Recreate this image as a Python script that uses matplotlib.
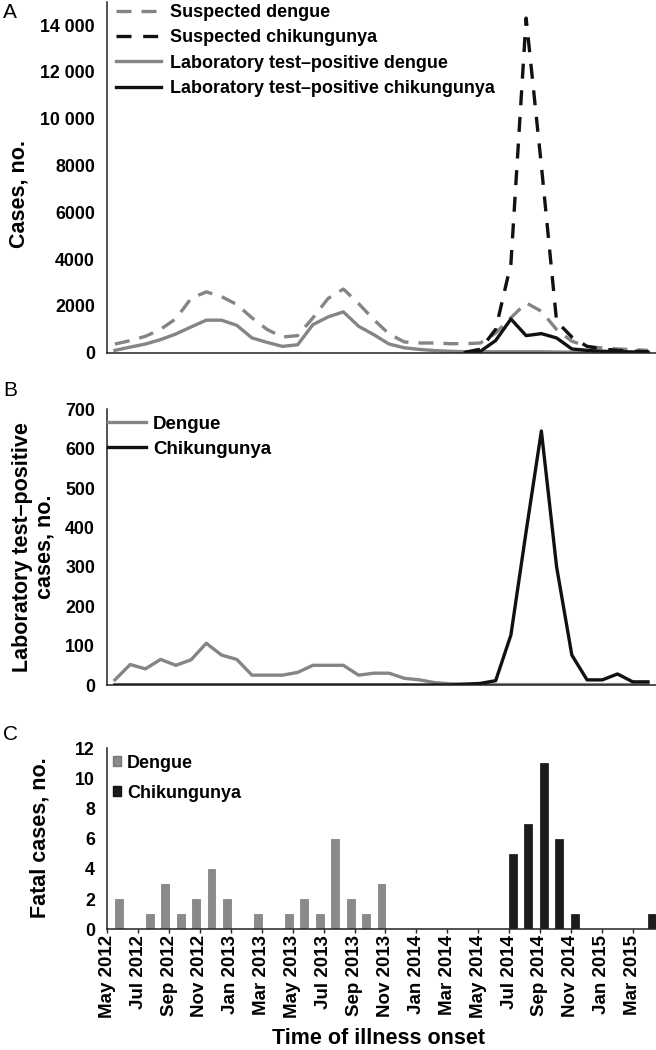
import numpy as np
from matplotlib import pyplot as plt
from matplotlib.lines import Line2D
from matplotlib.patches import Patch

plt.rcParams['font.family'] = ['Liberation Sans', 'DejaVu Sans']
plt.rcParams['font.weight'] = 'bold'

W, H = 656, 1050

# one value per month, index 0 = May 2012 ... 35 = Apr 2015
months = np.arange(36)

# panel A, cases per month
susp_dengue = [370, 515, 700, 1000, 1450, 2320, 2600, 2400, 2060, 1490, 990, 670,
               730, 1490, 2320, 2720, 2100, 1410, 800, 460, 415, 415, 385, 385,
               415, 840, 1490, 2130, 1770, 990, 490, 270, 200, 160, 130, 100]
lab_dengue = [100, 240, 370, 560, 800, 1100, 1390, 1390, 1170, 630, 440, 270,
              340, 1200, 1530, 1745, 1130, 770, 370, 210, 140, 90, 60, 45,
              40, 40, 40, 40, 40, 30, 20, 15, 10, 10, 10, 10]
chik_start = 23  # Apr 2014
susp_chik = [20, 150, 1000, 3800, 14300, 8000, 1340, 670, 270, 160, 100, 70, 40]
lab_chik = [0, 60, 520, 1440, 730, 815, 630, 160, 100, 60, 50, 30, 30]

# panel B, laboratory test-positive cases
b_dengue = [13, 52, 41, 65, 50, 64, 106, 76, 65, 25, 25, 25,
            32, 50, 50, 50, 25, 30, 30, 17, 13, 6, 3, 2,
            1, 1, 1, 1, 1, 1, 1, 1, 1, 1, 1, 1]
b_chik = [0] * 23 + [2, 4, 11, 127, 390, 645, 300, 76, 13, 13, 28, 8, 8]

# panel C, fatal cases
fatal_dengue = [2, 0, 1, 3, 1, 2, 4, 2, 0, 1, 0, 1, 2, 1, 6, 2, 1, 3] + [0] * 18
fatal_chik = [0] * 26 + [5, 7, 11, 6, 1, 0, 0, 0, 0, 1]

a_ticks = [0, 2000, 4000, 6000, 8000, 10000, 12000, 14000]
a_ticklabels = ['0', '2000', '4000', '6000', '8000', '10 000', '12 000', '14 000']
b_ticks = [0, 100, 200, 300, 400, 500, 600, 700]
c_ticks = [0, 2, 4, 6, 8, 10, 12]
c_xticklabels = ['May 2012', 'Jul 2012', 'Sep 2012', 'Nov 2012', 'Jan 2013', 'Mar 2013',
                 'May 2013', 'Jul 2013', 'Sep 2013', 'Nov 2013', 'Jan 2014', 'Mar 2014',
                 'May 2014', 'Jul 2014', 'Sep 2014', 'Nov 2014', 'Jan 2015', 'Mar 2015']

GRAY = '#858585'
BLACK = '#111111'
LW = 2.4
TICK_FS = 12.8
LABEL_FS = 15.5

fig = plt.figure(figsize=(W / 100, H / 100), dpi=100)


def px_axes(left, top, right, bottom):
    return fig.add_axes([left / W, 1 - bottom / H, (right - left) / W, (bottom - top) / H])


def style(ax):
    for s in ['top', 'right']:
        ax.spines[s].set_visible(False)
    for s in ['left', 'bottom']:
        ax.spines[s].set_linewidth(1.1)
        ax.spines[s].set_color('#222222')
    ax.tick_params(axis='y', length=0, pad=8.8, labelsize=TICK_FS)


# ---- panel A
axA = px_axes(107.3, 1.7, 655.6, 352.7)
style(axA)
chik_x = months[chik_start:]
axA.plot(months, susp_dengue, color=GRAY, lw=LW, dashes=(4.5, 3))
axA.plot(months, lab_dengue, color=GRAY, lw=LW)
axA.plot(chik_x, susp_chik, color=BLACK, lw=LW, dashes=(4.5, 3.5))
axA.plot(chik_x, lab_chik, color=BLACK, lw=LW)
axA.set_xlim(-0.5, 35.5)
axA.set_ylim(0, 15000)
axA.set_yticks(a_ticks)
axA.set_yticklabels(a_ticklabels)
axA.set_xticks([])
handlesA = [Line2D([], [], color=GRAY, lw=LW, dashes=(4.5, 3)),
            Line2D([], [], color=BLACK, lw=LW, dashes=(4.5, 3.5)),
            Line2D([], [], color=GRAY, lw=LW),
            Line2D([], [], color=BLACK, lw=LW)]
labelsA = ['Suspected dengue', 'Suspected chikungunya',
           'Laboratory test\u2013positive dengue', 'Laboratory test\u2013positive chikungunya']
axA.legend(handlesA, labelsA, loc='upper left', bbox_to_anchor=(116 / W, 1 - 4 / H),
           bbox_transform=fig.transFigure, frameon=False, fontsize=13,
           handlelength=2.5, handletextpad=0.47, labelspacing=0.46,
           borderpad=0, borderaxespad=0)

# ---- panel B
axB = px_axes(107.3, 409.3, 655.6, 685)
style(axB)
axB.plot(months, b_dengue, color=GRAY, lw=LW)
axB.plot(months, b_chik, color=BLACK, lw=LW)
axB.set_xlim(-0.5, 35.5)
axB.set_ylim(0, 700)
axB.set_yticks(b_ticks)
axB.set_xticks([])
handlesB = [Line2D([], [], color=GRAY, lw=LW), Line2D([], [], color=BLACK, lw=LW)]
axB.legend(handlesB, ['Dengue', 'Chikungunya'], loc='upper left',
           bbox_to_anchor=(108 / W, 1 - 415.5 / H), bbox_transform=fig.transFigure,
           frameon=False, fontsize=13.5, handlelength=2.05, handletextpad=0.34,
           labelspacing=0.43, borderpad=0, borderaxespad=0)

# ---- panel C
axC = px_axes(107.3, 748.3, 663.5, 929.3)
style(axC)
axC.bar(months, fatal_chik, width=0.5, align='edge', color='#1c1c1c',
        edgecolor='#111111', linewidth=0.5)
axC.bar(months + 0.5, fatal_dengue, width=0.5, align='edge', color='#8a8a8a',
        edgecolor='#777777', linewidth=0.5)
axC.set_xlim(0, 36)
axC.set_ylim(0, 12)
axC.set_yticks(c_ticks)
axC.set_xticks(np.arange(0, 35, 2))
axC.set_xticklabels(c_xticklabels, rotation=90, fontsize=13.5)
axC.tick_params(axis='x', length=3, width=1, pad=1, color='#222222')
handlesC = [Patch(facecolor='#8a8a8a', edgecolor='#777777'),
            Patch(facecolor='#1c1c1c', edgecolor='#111111')]
axC.legend(handlesC, ['Dengue', 'Chikungunya'], loc='upper left',
           bbox_to_anchor=(113 / W, 1 - 754.5 / H), bbox_transform=fig.transFigure,
           frameon=False, fontsize=13, handlelength=0.45, handleheight=0.45,
           handletextpad=0.33, labelspacing=0.73, borderpad=0, borderaxespad=0)

# axis titles and panel letters
fig.text(19 / W, 1 - 194 / H, 'Cases, no.', rotation=90, ha='center', va='center',
         fontsize=LABEL_FS)
fig.text(34 / W, 1 - 547 / H, 'Laboratory test\u2013positive\ncases, no.', rotation=90,
         ha='center', va='center', fontsize=LABEL_FS, linespacing=1.1)
fig.text(40 / W, 1 - 838 / H, 'Fatal cases, no.', rotation=90, ha='center', va='center',
         fontsize=LABEL_FS)
fig.text(378 / W, 1 - 1038 / H, 'Time of illness onset', ha='center', va='center',
         fontsize=LABEL_FS)
for letter, y in [('A', 12.5), ('B', 391), ('C', 734)]:
    fig.text(3 / W, 1 - y / H, letter, ha='left', va='center', fontsize=15,
             fontweight='normal')

fig.savefig('out.png', dpi=100)
